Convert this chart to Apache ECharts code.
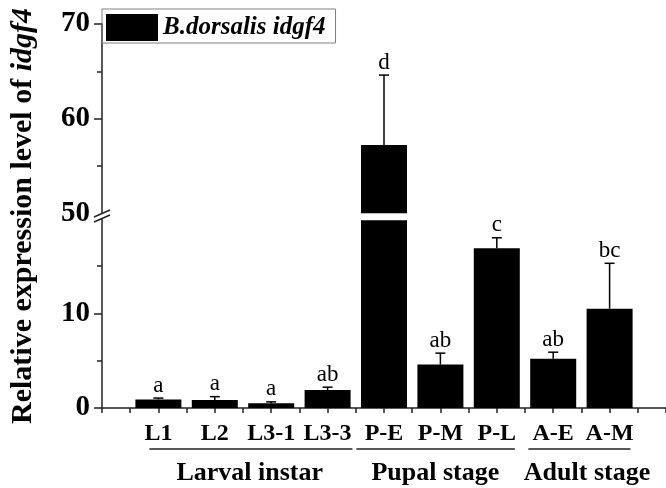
<!DOCTYPE html>
<html>
<head>
<meta charset="utf-8">
<script src="https://cdn.jsdelivr.net/npm/echarts@6/dist/echarts.min.js"></script>
<style>
  html, body { margin: 0; padding: 0; background: #fff; }
  #chart { width: 666px; height: 488px; }
</style>
</head>
<body>
<div id="chart"></div>
<script>
const categories = ["L1", "L2", "L3-1", "L3-3", "P-E", "P-M", "P-L", "A-E", "A-M"];
const means = [0.9, 0.85, 0.5, 1.9, 57.2, 4.6, 16.9, 5.2, 10.5];
const sds = [0.15, 0.35, 0.15, 0.3, 7.4, 1.2, 1.1, 0.7, 4.8];
const letters = ["a", "a", "a", "ab", "d", "ab", "c", "ab", "bc"];
const groupNames = ["Larval instar", "Pupal stage", "Adult stage"];
const majorTicks = [0, 10, 50, 60, 70];
const minorTicks = [5, 15, 55, 65];

// broken y axis: 0-20 kept as is, 50-70 shifted down next to it
const BREAK_LO = 20;
const BREAK_HI = 50;
const SHIFT = 29.4;
const toAxis = (v) => (v <= BREAK_LO ? v : v - SHIFT);
const fromAxis = (v) => (v <= BREAK_LO ? v : v + SHIFT);

const FONT = '"Liberation Serif", "Times New Roman", serif';

const barData = means.map((m, i) => [i + 1, toAxis(m)]);
const errData = means.map((m, i) => [i + 1, toAxis(m), toAxis(m + sds[i])]);

const chart = echarts.init(document.getElementById("chart"), null, { renderer: "canvas" });

const option = {
  animation: false,
  grid: { left: 96, right: 0, top: 24, bottom: 80 },
  legend: {
    data: ["B.dorsalis idgf4"],
    left: 102,
    top: 9,
    orient: "horizontal",
    icon: "rect",
    itemWidth: 52,
    itemHeight: 27,
    padding: [5, 10, 2, 4],
    borderColor: "#808080",
    borderWidth: 1,
    textStyle: { fontFamily: FONT, fontSize: 25, fontWeight: "bold", fontStyle: "italic", color: "#000" },
  },
  xAxis: {
    type: "value",
    min: 0,
    max: 10,
    interval: 0.5,
    splitLine: { show: false },
    axisLine: { lineStyle: { color: "#222", width: 1.5 } },
    axisTick: { length: 5, lineStyle: { color: "#222", width: 1.5 } },
    axisLabel: {
      customValues: categories.map((_, i) => i + 1),
      formatter: (v) => categories[Math.round(v) - 1] ?? "",
      margin: 14,
      fontFamily: FONT,
      fontSize: 24,
      fontWeight: "bold",
      color: "#000",
    },
  },
  yAxis: [
    {
      type: "value",
      min: 0,
      max: toAxis(70),
      splitLine: { show: false },
      axisLine: { show: true, lineStyle: { color: "#222", width: 1.5 } },
      axisTick: {
        show: true,
        length: 8,
        customValues: majorTicks.filter((v) => v !== BREAK_HI).map(toAxis),
        lineStyle: { color: "#222", width: 1.5 },
      },
      axisLabel: {
        customValues: majorTicks.map(toAxis),
        formatter: (v) => String(Math.round(fromAxis(v))),
        margin: 12,
        fontFamily: FONT,
        fontSize: 29,
        fontWeight: "bold",
        color: "#000",
      },
      name: "{a|Relative expression level of }{b|idgf4}",
      nameLocation: "middle",
      nameGap: 64,
      nameTextStyle: {
        fontFamily: FONT,
        fontSize: 30,
        fontWeight: "bold",
        color: "#000",
        rich: {
          a: { fontFamily: FONT, fontSize: 30, fontWeight: "bold", color: "#000" },
          b: { fontFamily: FONT, fontSize: 30, fontWeight: "bold", fontStyle: "italic", color: "#000" },
        },
      },
    },
    {
      type: "value",
      min: 0,
      max: toAxis(70),
      position: "left",
      splitLine: { show: false },
      axisLine: { show: false },
      axisLabel: { show: false },
      axisTick: {
        show: true,
        length: 5,
        customValues: minorTicks.map(toAxis),
        lineStyle: { color: "#222", width: 1.5 },
      },
    },
  ],
  series: [
    {
      name: "B.dorsalis idgf4",
      type: "bar",
      barWidth: 46,
      itemStyle: { color: "#000" },
      data: barData,
      z: 2,
    },
    {
      name: "err",
      type: "custom",
      z: 3,
      data: errData,
      renderItem: (params, api) => {
        const x = api.value(0);
        const base = api.coord([x, api.value(1)]);
        const top = api.coord([x, api.value(2)]);
        const children = [];
        // white gap through the bar where the axis is broken
        if (api.value(1) > BREAK_LO) {
          const yLo = api.coord([x, 19.85])[1];
          const yHi = api.coord([x, 20.6])[1];
          children.push({
            type: "rect",
            shape: { x: base[0] - 25, y: yHi, width: 50, height: yLo - yHi },
            style: { fill: "#fff" },
          });
        }
        children.push(
          {
            type: "line",
            shape: { x1: top[0], y1: base[1], x2: top[0], y2: top[1] },
            style: { stroke: "#000", lineWidth: 1.5 },
          },
          {
            type: "line",
            shape: { x1: top[0] - 5, y1: top[1], x2: top[0] + 5, y2: top[1] },
            style: { stroke: "#000", lineWidth: 1.5 },
          },
          {
            type: "text",
            x: top[0],
            y: top[1] - 1,
            style: {
              text: letters[params.dataIndex],
              align: "center",
              verticalAlign: "bottom",
              fontFamily: FONT,
              fontSize: 23,
              fill: "#000",
            },
          }
        );
        return { type: "group", children };
      },
    },
  ],
};

chart.setOption(option);

// group underlines and captions below the category labels
const groupSpans = [
  [0.84, 4.44],
  [4.51, 7.32],
  [7.56, 9.37],
];
const groupLabelX = [2.62, 5.91, 8.6];
const px = (v) => chart.convertToPixel({ xAxisIndex: 0 }, v);
const py = (v) => chart.convertToPixel({ yAxisIndex: 0 }, v);

const graphics = [];
groupSpans.forEach(([a, b], i) => {
  graphics.push({
    type: "line",
    shape: { x1: px(a), y1: 449, x2: px(b), y2: 449 },
    style: { stroke: "#222", lineWidth: 1.5 },
  });
  graphics.push({
    type: "text",
    x: px(groupLabelX[i]),
    y: 473,
    style: {
      text: groupNames[i],
      align: "center",
      verticalAlign: "middle",
      fontFamily: FONT,
      fontSize: 26,
      fontWeight: "bold",
      fill: "#000",
    },
  });
});

// break mark on the y axis
const ax = px(0);
const by = py(20.3);
graphics.push(
  {
    type: "polygon",
    shape: { points: [[ax - 8, by + 1], [ax + 8, by - 6], [ax + 8, by - 1], [ax - 8, by + 6]] },
    style: { fill: "#fff" },
    z: 10,
  },
  {
    type: "line",
    shape: { x1: ax - 8, y1: by + 1, x2: ax + 8, y2: by - 6 },
    style: { stroke: "#222", lineWidth: 1.5 },
    z: 11,
  },
  {
    type: "line",
    shape: { x1: ax - 8, y1: by + 6, x2: ax + 8, y2: by - 1 },
    style: { stroke: "#222", lineWidth: 1.5 },
    z: 11,
  }
);

chart.setOption({ graphic: graphics });
</script>
</body>
</html>
